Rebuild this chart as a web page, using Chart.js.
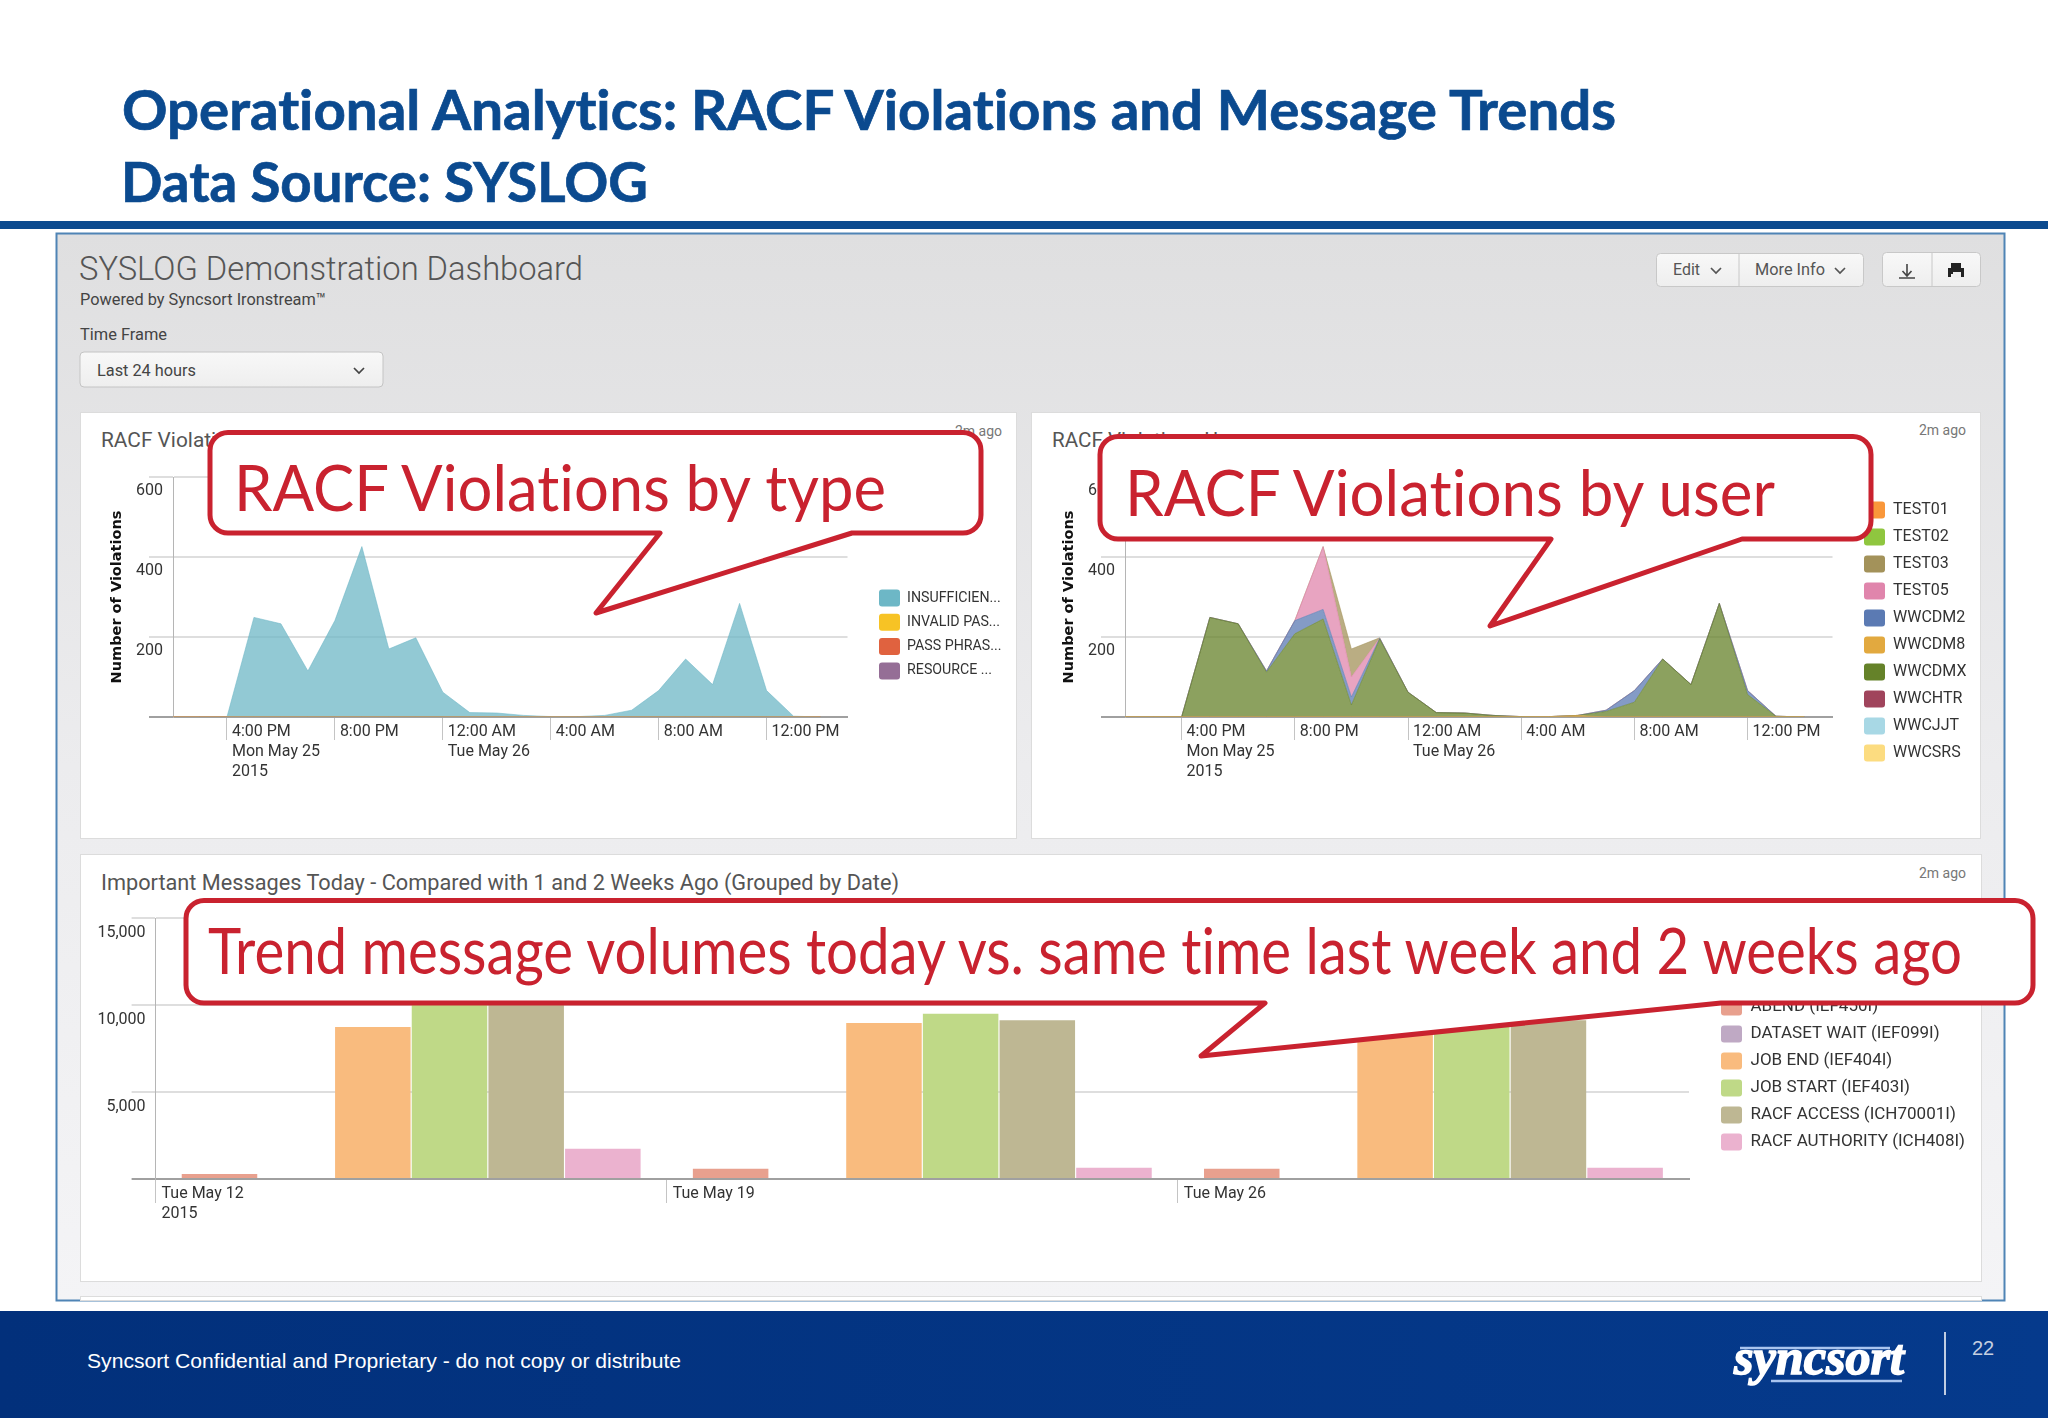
<!DOCTYPE html>
<html><head><meta charset="utf-8">
<script src="https://cdn.jsdelivr.net/npm/chart.js@4"></script>
<style>
html,body{margin:0;padding:0;background:#fff;width:2048px;height:1418px;overflow:hidden}
svg,canvas{position:absolute;left:0;top:0;display:block}
svg{width:2048px;height:1418px}
svg text{font-variant-ligatures:none;font-feature-settings:"liga" 0}
canvas{z-index:2}
#top{z-index:5;pointer-events:none}
#bg{z-index:1}
.r{font-family:Roboto,sans-serif}
.g{fill:#555}
</style></head><body>
<svg id="bg" viewBox="0 0 2048 1418" xmlns="http://www.w3.org/2000/svg">
<defs>
<linearGradient id="dash" x1="0" y1="0" x2="0" y2="1"><stop offset="0" stop-color="#dfdfe0"/><stop offset=".5" stop-color="#ececee"/><stop offset="1" stop-color="#f4f4f6"/></linearGradient>
<linearGradient id="btn" x1="0" y1="0" x2="0" y2="1"><stop offset="0" stop-color="#f8f8f8"/><stop offset="1" stop-color="#eeeeee"/></linearGradient>
<linearGradient id="foot" x1="0" y1="0" x2="1" y2="0"><stop offset="0" stop-color="#02307b"/><stop offset="1" stop-color="#053a8c"/></linearGradient>
</defs>
<text x="122" y="130" font-family="Lato" font-weight="700" font-size="55" fill="#0b4a8f" stroke="#0b4a8f" stroke-width=".7" textLength="1494" lengthAdjust="spacingAndGlyphs">Operational Analytics: RACF Violations and Message Trends</text>
<text x="121" y="202" font-family="Lato" font-weight="700" font-size="55" fill="#0b4a8f" stroke="#0b4a8f" stroke-width=".7" textLength="527" lengthAdjust="spacingAndGlyphs">Data Source: SYSLOG</text>
<rect x="0" y="221" width="2048" height="8" fill="#0b4a8f"/>
<rect x="56.5" y="233.5" width="1948" height="1067" fill="url(#dash)" stroke="#4f84b5" stroke-width="2"/>
<text class="r g" x="79" y="280" font-size="34" font-weight="300" textLength="504" lengthAdjust="spacingAndGlyphs">SYSLOG Demonstration Dashboard</text>
<text class="r" x="80" y="305" font-size="16.5" fill="#444" textLength="246" lengthAdjust="spacingAndGlyphs">Powered by Syncsort Ironstream™</text>
<text class="r" x="80" y="340" font-size="16.5" fill="#444" textLength="87" lengthAdjust="spacingAndGlyphs">Time Frame</text>
<rect x="80" y="352" width="303" height="35" rx="4" fill="url(#btn)" stroke="#c4c4c4"/>
<text class="r" x="97" y="376" font-size="17" fill="#444" textLength="99" lengthAdjust="spacingAndGlyphs">Last 24 hours</text>
<path d="M354 368l5 5 5-5" fill="none" stroke="#444" stroke-width="1.7"/>
<rect x="1656.5" y="253.5" width="207" height="33" rx="4" fill="url(#btn)" stroke="#c8c8c8"/>
<line x1="1739" y1="254" x2="1739" y2="286" stroke="#c8c8c8"/>
<text class="r" x="1673" y="275" font-size="16.5" fill="#555" textLength="27" lengthAdjust="spacingAndGlyphs">Edit</text>
<path d="M1711 268l5 5 5-5" fill="none" stroke="#555" stroke-width="1.7"/>
<text class="r" x="1755" y="275" font-size="16.5" fill="#555" textLength="70" lengthAdjust="spacingAndGlyphs">More Info</text>
<path d="M1835 268l5 5 5-5" fill="none" stroke="#555" stroke-width="1.7"/>
<rect x="1882.5" y="252.5" width="98" height="34" rx="4" fill="url(#btn)" stroke="#c8c8c8"/>
<line x1="1932" y1="253" x2="1932" y2="286" stroke="#c8c8c8"/>
<path d="M1907 264v11M1902.5 271l4.5 5 4.5-5M1899 278h16" fill="none" stroke="#444" stroke-width="1.6"/>
<path d="M1951 263h10v5h3v9h-3v-3h-10v3h-3v-9h3z" fill="#222"/><rect x="1953" y="272" width="8" height="6" fill="#eee"/>

<rect x="80.5" y="412.5" width="936" height="426" fill="#fff" stroke="#dcdcdc"/>
<rect x="1031.5" y="412.5" width="949" height="426" fill="#fff" stroke="#dcdcdc"/>
<rect x="80.5" y="854.5" width="1901" height="427" fill="#fff" stroke="#dcdcdc"/>
<rect x="80.5" y="1296.5" width="1901" height="4" fill="#fff" stroke="#dcdcdc"/>
<text class="r g" x="101" y="447" font-size="21" textLength="225" lengthAdjust="spacingAndGlyphs">RACF Violations by Type</text>
<text class="r g" x="1052" y="447" font-size="21" textLength="205" lengthAdjust="spacingAndGlyphs">RACF Violations Users</text>
<text class="r g" x="101" y="890" font-size="22" textLength="798" lengthAdjust="spacingAndGlyphs">Important Messages Today - Compared with 1 and 2 Weeks Ago (Grouped by Date)</text>
<text class="r" x="1002" y="436" font-size="14" fill="#777" text-anchor="end">2m ago</text>
<text class="r" x="1966" y="435" font-size="14" fill="#777" text-anchor="end">2m ago</text>
<text class="r" x="1966" y="878" font-size="14" fill="#777" text-anchor="end">2m ago</text>

<rect x="0" y="1311" width="2048" height="107" fill="url(#foot)"/>
<text x="87" y="1368" font-family="Liberation Sans" font-size="21" fill="#fff" textLength="594" lengthAdjust="spacingAndGlyphs">Syncsort Confidential and Proprietary - do not copy or distribute</text>
<line x1="1945" y1="1332" x2="1945" y2="1395" stroke="#fff" stroke-width="1.5"/>
<text x="1972" y="1355" font-family="Liberation Sans" font-size="20" fill="#c5cfe0">22</text>
<line x1="1740" y1="1348" x2="1890" y2="1348" stroke="#a9c4ee" stroke-width="2.5"/>
<line x1="1771" y1="1381" x2="1902" y2="1381" stroke="#a9c4ee" stroke-width="2.5"/>
<text x="1734" y="1374" font-family="Liberation Serif" font-style="italic" font-weight="700" font-size="50" fill="#fff" stroke="#fff" stroke-width="1.6" textLength="170" lengthAdjust="spacingAndGlyphs">syncsort</text>
</svg>

<canvas id="typeChart" width="936" height="426" style="left:80px;top:412px"></canvas>
<canvas id="userChart" width="948" height="426" style="left:1032px;top:412px"></canvas>
<canvas id="msgChart" width="1901" height="427" style="left:80px;top:854px"></canvas>

<svg id="top" viewBox="0 0 2048 1418" xmlns="http://www.w3.org/2000/svg">
<g fill="#fff" stroke="#c9222f" stroke-width="5" stroke-linejoin="round">
<path d="M228 432.5H963a18 18 0 0 1 18 18V515a18 18 0 0 1 -18 18H852L596 613L660 533H228a18 18 0 0 1 -18 -18V450.5a18 18 0 0 1 18 -18Z"/>
<path d="M1118 436.5H1853a18 18 0 0 1 18 18V521a18 18 0 0 1 -18 18H1742L1490 626L1551 539H1118a18 18 0 0 1 -18 -18V454.5a18 18 0 0 1 18 -18Z"/>
<path d="M204 900.5H2015a18 18 0 0 1 18 18V985a18 18 0 0 1 -18 18H1721L1201 1056L1265 1003H204a18 18 0 0 1 -18 -18V918.5a18 18 0 0 1 18 -18Z"/>
</g>
<g font-family="Lato" font-size="64" fill="#c9222f">
<text x="234" y="511" textLength="652" lengthAdjust="spacingAndGlyphs">RACF Violations by type</text>
<text x="1125" y="516" textLength="650" lengthAdjust="spacingAndGlyphs">RACF Violations by user</text>
<text x="208" y="974" textLength="1754" lengthAdjust="spacingAndGlyphs">Trend message volumes today vs. same time last week and 2 weeks ago</text>
</g>
</svg>

<script>
// ---- data ----
const hourLabels = ['2 PM','3 PM','4 PM','5 PM','6 PM','7 PM','8 PM','9 PM','10 PM','11 PM','12 AM','1 AM','2 AM','3 AM','4 AM','5 AM','6 AM','7 AM','8 AM','9 AM','10 AM','11 AM','12 PM','1 PM','2 PM','3 PM'];
const axisTickHours = ['4 PM','8 PM','12 AM','4 AM','8 AM','12 PM'];
const axisTickText = [['4:00 PM','Mon May 25','2015'],['8:00 PM'],['12:00 AM','Tue May 26'],['4:00 AM'],['8:00 AM'],['12:00 PM']];

const typeNames = ['INSUFFICIEN...','INVALID PAS...','PASS PHRAS...','RESOURCE ...'];
const typeColors = ['#6db7c6','#f7c325','#e0623f','#956e96'];
const insufficient = [0,0,0,249,233,115,241,426,170,198,62,11,10,4,1,1,4,17,66,145,81,284,66,2,0];
const invalidPass  = [0,0,0,0,0,0,0,0,0,0,0,0,0,0,0,0,0,0,0,0,0,0,0,0,0];
const passPhrase   = [0,0,0,0,0,0,0,0,0,0,0,0,0,0,0,0,0,0,0,0,0,0,0,0,0];
const resourceAcc  = [0,0,0,0,0,0,0,0,0,0,0,0,0,0,0,0,0,0,0,0,0,0,0,0,0];
const typeStackOrder = [3,0,1,2];

const userNames = ['TEST01','TEST02','TEST03','TEST05','WWCDM2','WWCDM8','WWCDMX','WWCHTR','WWCJJT','WWCSRS'];
const userColors = ['#f9973a','#8fc63f','#a3925a','#e085ac','#5b7ab3','#e2a93f','#658229','#a0445c','#a8d8e5','#fcdc80'];
const test01 = [0,0,0,0,0,0,0,0,0,0,0,0,0,0,0,0,0,0,0,0,0,0,0,0,0];
const test02 = [0,0,0,0,0,0,0,0,0,0,0,0,0,0,0,0,0,0,0,0,0,0,0,0,0];
const test03 = [0,0,0,0,0,0,0,0,70,1,0,0,0,0,0,0,0,0,0,0,0,0,0,0,0];
const test05 = [0,0,0,0,0,0,0,157,50,0,0,0,0,0,0,0,0,0,0,0,0,0,0,0,0];
const wwcdm2 = [0,0,0,0,0,3,33,24,20,2,0,0,0,0,0,0,0,3,29,0,0,0,10,0,0];
const wwcdm8 = [0,0,0,0,0,0,0,0,0,0,0,0,0,0,0,1,4,0,0,0,0,0,0,0,0];
const wwcdmx = [0,0,0,249,233,112,208,245,30,195,62,11,10,4,1,0,0,14,37,145,81,284,56,2,0];
const wwchtr = [0,0,0,0,0,0,0,0,0,0,0,0,0,0,0,0,0,0,0,0,0,0,0,0,0];
const wwcjjt = [0,0,0,0,0,0,0,0,0,0,0,0,0,0,0,0,0,0,0,0,0,0,0,0,0];
const wwcsrs = [0,0,0,0,0,0,0,0,0,0,0,0,0,0,0,0,0,0,0,0,0,0,0,0,0];
const userStackOrder = [0,1,9,8,7,5,6,2,3,4];

const msgDates = ['Tue May 12','Tue May 19','Tue May 26'];
const msgTickText = [['Tue May 12','2015'],['Tue May 19'],['Tue May 26']];
const msgNames = ['ABEND (IEF450I)','DATASET WAIT (IEF099I)','JOB END (IEF404I)','JOB START (IEF403I)','RACF ACCESS (ICH70001I)','RACF AUTHORITY (ICH408I)'];
const msgColors = ['#e8a08e','#bfa9c4','#f9bb7e','#bfd987','#beb793','#ebb2cf'];
const abend     = [290,594,594];
const dsWait    = [0,0,0];
const jobEnd    = [8736,8966,8950];
const jobStart  = [10500,9500,9100];
const racfAccess= [10300,9120,9120];
const racfAuth  = [1743,650,650];

// ---- chart helpers ----
const alpha = (hex,a)=>hex+Math.round(a*255).toString(16).padStart(2,'0');
Chart.defaults.font.family = 'Roboto';
Chart.defaults.color = '#333';
Chart.defaults.animation = false;

function legendPlugin(width, swatchX, firstTop, pad){
  return {
    id:'placeLegend',
    beforeInit(chart){
      const l = chart.legend, f = l.fit;
      l.fit = function(){ f.call(this); this.width = width; };
    },
    afterLayout(chart){
      chart.legend.left = swatchX - pad;
      chart.legend.top = firstTop - pad;
    }
  };
}
function legendOpts(colors, size, pad){
  return {
    display:true, position:'right', align:'start',
    labels:{
      boxWidth:21, boxHeight:17, padding:pad, useBorderRadius:true, borderRadius:3,
      color:'#333', font:{size:size, family:'Roboto'},
      generateLabels(chart){
        return Chart.defaults.plugins.legend.labels.generateLabels(chart)
          .sort((a,b)=>a.datasetIndex-b.datasetIndex)
          .map(x=>({...x, fillStyle:colors[x.datasetIndex], strokeStyle:colors[x.datasetIndex], lineWidth:0}));
      }
    }
  };
}
function yAxis(max, step, width, offset, title){
  return {
    min:0, max:max, stacked:title!==null,
    afterFit(s){ s.width = width; },
    border:{display:true,color:'#b5b5b5',width:1},
    grid:{
      color:c=>c.tick&&c.tick.value===0?'#a0a0a0':'#dedede',
      tickColor:c=>c.tick&&c.tick.value===0?'#a0a0a0':'#dedede',
      lineWidth:2, tickLength:24
    },
    ticks:{stepSize:step, padding:-14, labelOffset:offset, color:'#333', font:{size:16},
      callback:v=>v===0?'':v.toLocaleString('en-US')},
    title: title===null?{display:false}:{display:true,text:title,color:'#111',
      font:{family:'DejaVu Sans',weight:'bold',size:14.5},padding:{top:29,bottom:0}}
  };
}
function areaChart(id, names, colors, series, stackOrder, legW, swatchX, firstTop, legSize, pad, yW){
  const tickIdx = axisTickHours.map(h=>hourLabels.indexOf(h));
  new Chart(document.getElementById(id),{
    type:'line',
    data:{labels:hourLabels, datasets:names.map((n,i)=>({
      label:n, data:series[i], order:stackOrder[i], fill:'stack',
      backgroundColor:alpha(colors[i],.75), borderColor:alpha(colors[i],.55),
      borderWidth:1, pointRadius:0, tension:0
    }))},
    options:{
      responsive:false, devicePixelRatio:1,
      layout:{padding:{top:65,left:0,right:0,bottom:0}},
      plugins:{legend:legendOpts(colors,legSize,pad),tooltip:{enabled:false}},
      scales:{
        x:{
          afterFit(s){ s.height = 121; },
          border:{display:true,color:'#a0a0a0',width:2},
          grid:{drawOnChartArea:false,tickLength:23,lineWidth:1,
            tickColor:c=>tickIdx.includes(c.index)?'#c4c4c4':'transparent'},
          ticks:{autoSkip:false,maxRotation:0,minRotation:0,align:'start',labelOffset:5,padding:-18.5,color:'#333',
            font:{size:16,lineHeight:1.27},
            callback(v,i){ const k=tickIdx.indexOf(i); return k>=0?axisTickText[k]:''; }}
        },
        y:yAxis(600,200,yW,13.5,'Number of Violations')
      }
    },
    plugins:[legendPlugin(legW,swatchX,firstTop,pad)]
  });
}

areaChart('typeChart',typeNames,typeColors,[insufficient,invalidPass,passPhrase,resourceAcc],typeStackOrder,
  168.5, 879-80, 589.5-412, 14.2, 7.3, 93);
areaChart('userChart',userNames,userColors,[test01,test02,test03,test05,wwcdm2,wwcdm8,wwcdmx,wwchtr,wwcjjt,wwcsrs],userStackOrder,
  147.5, 1864-1032, 501.5-412, 16, 10, 93);

new Chart(document.getElementById('msgChart'),{
  type:'bar',
  data:{labels:msgDates, datasets:msgNames.map((n,i)=>({
    label:n, data:[abend,dsWait,jobEnd,jobStart,racfAccess,racfAuth][i],
    backgroundColor:msgColors[i], categoryPercentage:.9, barPercentage:.985
  }))},
  options:{
    responsive:false, devicePixelRatio:1,
    layout:{padding:{top:64,left:0,right:0,bottom:0}},
    plugins:{legend:legendOpts(msgColors,17,10),tooltip:{enabled:false}},
    scales:{
      x:{
        afterFit(s){ s.height = 102; },
        border:{display:true,color:'#a0a0a0',width:2},
        grid:{drawOnChartArea:false,offset:true,tickLength:24,lineWidth:1,
          tickColor:c=>c.index===undefined?'transparent':'#c4c4c4'},
        ticks:{autoSkip:false,maxRotation:0,minRotation:0,align:'start',labelOffset:-249.6,padding:-19,color:'#333',
          font:{size:16,lineHeight:1.27},
          callback(v,i){ return msgTickText[i]; }}
      },
      y:yAxis(15000,5000,75.6,15,null)
    }
  },
  plugins:[legendPlugin(292,1721-80,998.5-854,10)]
});
</script>
</body></html>
